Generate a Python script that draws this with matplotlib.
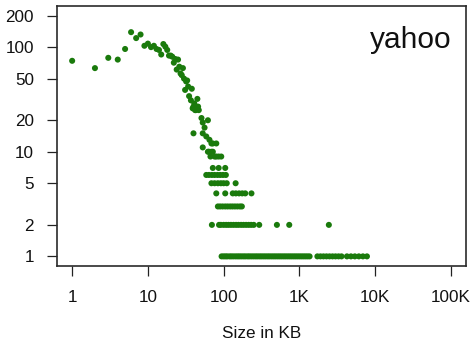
import matplotlib
matplotlib.use("Agg")
import matplotlib.pyplot as plt
from matplotlib.ticker import FixedLocator, NullLocator

# ---- data (file size in KB vs. count) ----
x_head = [1, 2, 3, 4, 5, 6, 7, 8, 9, 10, 11, 12, 13, 14, 15, 16, 17, 18, 19, 20,
          21, 22, 23, 24, 25, 26, 27, 28, 29, 30, 31, 32, 33, 34, 35, 37, 38, 39,
          40, 41, 42, 43, 45, 46, 47, 51, 62, 53, 56, 40, 53, 59, 65, 72, 80, 69,
          53, 62, 64, 69, 72]
y_head = [74, 63, 79, 76, 96, 139, 122, 132, 103, 108, 100, 103, 96, 94, 85, 107, 101, 94, 83, 83,
          81, 71, 77, 61, 76, 65, 56, 54, 63, 50, 39, 47, 48, 42, 34, 31, 40, 26,
          27, 29, 25, 25, 32, 27, 25, 21, 20, 19, 17, 15, 15, 14, 13, 12, 12, 12,
          11, 10, 10, 10, 10]

x_y9 = [67, 76, 80, 86, 93]
x_y7 = [72, 86, 105]
x_y6 = [59, 64, 70, 76, 83, 90, 98, 107]
x_y5 = [69, 76, 84, 92, 100, 110, 144]
x_y4 = [80, 105, 132, 145, 160, 176, 193, 233]
x_y3 = [84, 90, 97, 105, 113, 122, 131, 141, 152, 164, 174]
x_y2 = [70, 87, 92, 100, 108, 116, 125, 135, 146, 157, 170, 183, 198, 214, 231, 250,
        295, 505, 735, 2450]
x_y1 = [94, 100, 106, 112, 120, 127, 135, 144, 153, 162, 172, 183, 194, 207, 219, 233,
        248, 264, 280, 298, 316, 336, 357, 380, 403, 429, 456, 484, 515, 547, 581, 618,
        656, 698, 742, 788, 838, 890, 946, 1006, 1069, 1136, 1207, 1283, 1364,
        1730, 1900, 2080, 2280, 2500, 2740, 3000, 3290, 3600,
        4250, 4800, 5400, 6100, 6900, 7800]

rows = [(x_y9, 9), (x_y7, 7), (x_y6, 6), (x_y5, 5), (x_y4, 4), (x_y3, 3), (x_y2, 2), (x_y1, 1)]

xticks = [1, 10, 100, 1000, 10000, 100000]
xticklabels = ["1", "10", "100", "1K", "10K", "100K"]
yticks = [1, 2, 5, 10, 20, 50, 100, 200]
yticklabels = ["1", "2", "5", "10", "20", "50", "100", "200"]

xs = list(x_head)
ys = list(y_head)
for xr, yv in rows:
    xs += xr
    ys += [yv] * len(xr)

plt.rcParams['font.family'] = ['Liberation Sans', 'DejaVu Sans']

fig = plt.figure(figsize=(4.73, 3.46), dpi=100)
ax = fig.add_axes([57 / 473, 1 - 266 / 346, (466 - 57) / 473, (266 - 6) / 346])

ax.scatter(xs, ys, s=19, color='#1a7a0c', edgecolors='none', zorder=3)

ax.set_xscale('log')
ax.set_yscale('log')
ax.set_xlim(10 ** -0.2, 10 ** 5.2)
ax.set_ylim(10 ** (-0.04 * 2.30103), 10 ** (2.30103 * 1.04))

ax.xaxis.set_major_locator(FixedLocator(xticks))
ax.xaxis.set_minor_locator(NullLocator())
ax.set_xticklabels(xticklabels)
ax.yaxis.set_major_locator(FixedLocator(yticks))
ax.yaxis.set_minor_locator(NullLocator())
ax.set_yticklabels(yticklabels)

ax.tick_params(axis='both', direction='out', length=7.5, width=0.9, labelsize=12.3,
               color='#222222', labelcolor='#111111')
ax.tick_params(axis='x', pad=10)
ax.tick_params(axis='y', pad=9)
for sp in ax.spines.values():
    sp.set_linewidth(1.2)
    sp.set_color('#2a2a2a')

ax.set_xlabel("Size in KB", fontsize=12.3, labelpad=15, color='#111111')

ax.text(0.965, 0.868, "yahoo", transform=ax.transAxes, ha='right', va='center',
        fontsize=21.5, color='#111111')

fig.savefig("out.png", dpi=100)
